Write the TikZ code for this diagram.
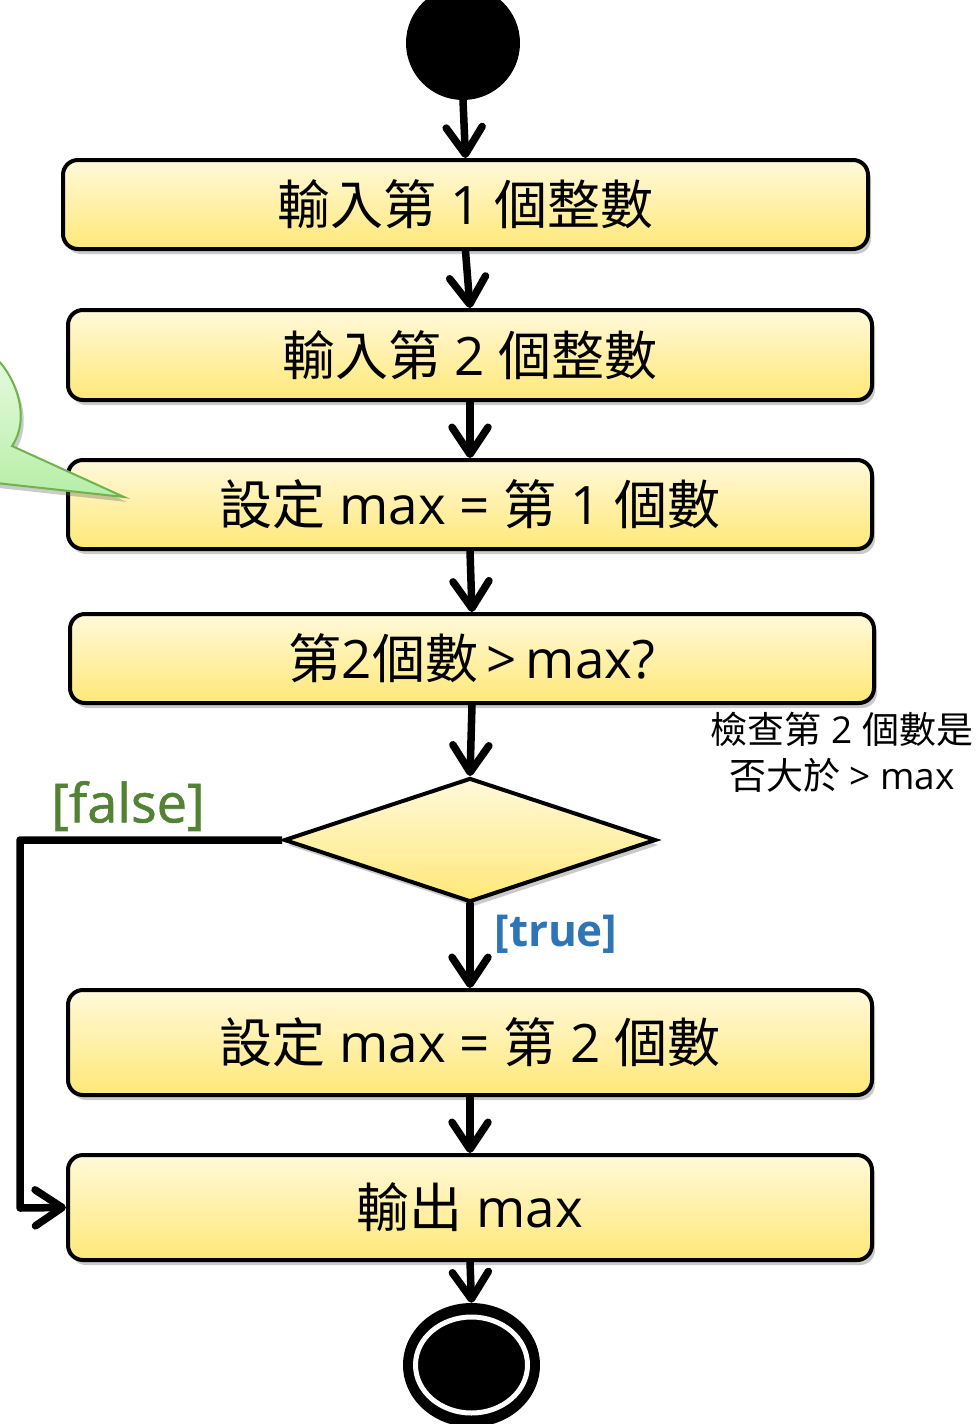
\documentclass[tikz,border=0pt]{standalone}
\usepackage{fontspec}
\setmainfont{Open Sans}
\newfontfamily\cjk{Noto Sans CJK TC}
\newfontfamily\semib[FakeBold=1.2]{Open Sans}
\usetikzlibrary{shapes.geometric,arrows.meta,shadows}
\definecolor{boxtop}{HTML}{FFF9DA}
\definecolor{boxbot}{HTML}{FFE878}
\definecolor{falsegreen}{HTML}{548235}
\definecolor{trueblue}{HTML}{2E75B6}
\definecolor{calltop}{HTML}{E6FADF}
\definecolor{callbot}{HTML}{B6EEA6}
\definecolor{callline}{HTML}{70B24C}
\newcommand{\zh}[1]{{\cjk #1}}
\tikzset{
  shad/.style={drop shadow={shadow xshift=3pt,shadow yshift=-5pt,opacity=0.35,fill=black!60}},
  actbox/.style={rectangle,rounded corners=15pt,draw=black,line width=4pt,
    top color=boxtop,bottom color=boxbot,shad,minimum width=804pt,inner sep=0pt,
    font=\fontsize{53}{62}\selectfont},
  flow/.style={line width=7.5pt,-{Straight Barb[length=27pt,width=36pt,round,line width=7.5pt]},
    line cap=round,line join=round},
}
\begin{document}
\begin{tikzpicture}[x=1pt,y=-1pt]
\useasboundingbox (0,0) rectangle (978,1424);
% start
\node[circle,fill=black,minimum size=114pt,inner sep=0pt] (start) at (463,43) {};
% boxes
\node[actbox,minimum width=805pt,minimum height=89pt] (b1) at (465.5,204.5) {\zh{輸入第} 1 \zh{個整數}};
\node[actbox,minimum height=90pt] (b2) at (470,355) {\zh{輸入第} 2 \zh{個整數}};
\node[actbox,minimum height=89pt] (b3) at (470,504.5) {\zh{設定} max = \zh{第} 1 \zh{個數}};
\node[actbox,minimum height=89pt] (b4) at (472,658.5) {\zh{第}2\zh{個數}\,>\,max?};
\node[diamond,draw=black,line width=4pt,top color=boxtop,bottom color=boxbot,shad,
  minimum width=372pt,minimum height=124pt,inner sep=0pt,aspect=3] (d) at (470,840) {};
\node[actbox,minimum height=105pt] (b5) at (470,1042.5) {\zh{設定} max = \zh{第} 2 \zh{個數}};
\node[actbox,minimum height=105pt] (b6) at (470,1207.5) {\zh{輸出} max};
% end
\node[ellipse,fill=black,minimum width=137pt,minimum height=124pt,inner sep=0pt] (end) at (471.5,1365) {};
\node[ellipse,fill=black,draw=white,line width=5pt,minimum width=112pt,minimum height=96pt,inner sep=0pt] (endin) at (end.center) {};
% labels
\node[align=center,font=\fontsize{37}{46}\selectfont] (note) at (842,752) {\zh{檢查第} 2 \zh{個數是}\\\zh{否大於} > max};
\node[text=falsegreen,font=\semib\fontsize{54}{60}\selectfont] (lf) at (128,806) {[false]};
\node[text=trueblue,font=\bfseries\fontsize{44}{54}\selectfont] (lt) at (556,934) {[true]};
% connectors
\draw[flow] (start.south) -- (b1.north);
\draw[flow] (b1.south) -- (b2.north);
\draw[flow] (b2.south) -- (b3.north);
\draw[flow] (b3.south) -- (b4.north);
\draw[flow] (b4.south) -- (d.north);
\draw[flow] (d.south) -- (b5.north);
\draw[flow] (b5.south) -- (b6.north);
\draw[flow] (b6.south) -- (end.north);
\coordinate (c1) at (20,840);
\coordinate (c2) at (20,1208);
\draw[flow,line cap=butt] (d.west) -- (c1) -- (c2) -- (b6.west);
% callout
\draw[callline,line width=2pt,top color=calltop,bottom color=callbot,shad]
  (-60,358) -- (-4,358) .. controls (18,380) and (30,420) .. (12,446) -- (124,497) -- (-4,483) -- (-60,483) -- cycle;
\end{tikzpicture}
\end{document}
